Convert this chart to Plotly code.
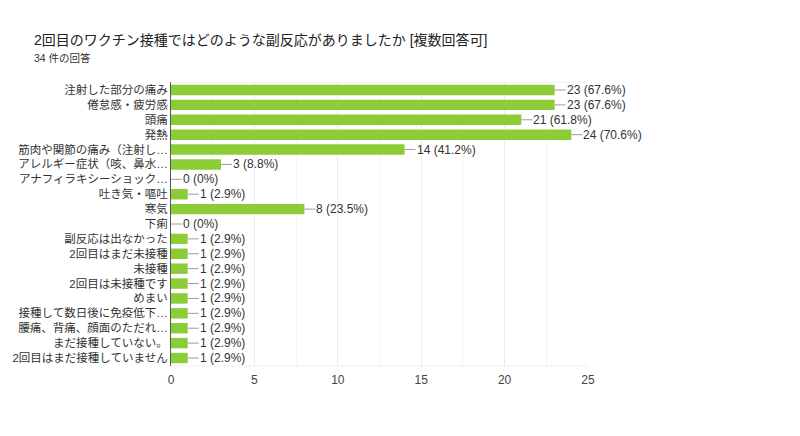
import plotly.graph_objects as go

categories = [
    "注射した部分の痛み", "倦怠感・疲労感", "頭痛", "発熱",
    "筋肉や関節の痛み（注射し…", "アレルギー症状（咳、鼻水…",
    "アナフィラキシーショック…", "吐き気・嘔吐", "寒気", "下痢",
    "副反応は出なかった", "2回目はまだ未接種", "未接種", "2回目は未接種です",
    "めまい", "接種して数日後に免疫低下…", "腰痛、背痛、顔面のただれ…",
    "まだ接種していない。", "2回目はまだ接種していません",
]
counts = [23, 23, 21, 24, 14, 3, 0, 1, 8, 0, 1, 1, 1, 1, 1, 1, 1, 1, 1]
percents = ["67.6%", "67.6%", "61.8%", "70.6%", "41.2%", "8.8%", "0%", "2.9%",
            "23.5%", "0%", "2.9%", "2.9%", "2.9%", "2.9%", "2.9%", "2.9%",
            "2.9%", "2.9%", "2.9%"]
x_ticks = [0, 5, 10, 15, 20, 25]

FONT = "'Liberation Sans', Arial, 'Noto Sans CJK JP', sans-serif"

fig = go.Figure(go.Bar(
    x=counts, y=categories, orientation="h",
    marker=dict(color="#8bcc37", line=dict(width=0)),
    hoverinfo="skip",
))

for c, v, p in zip(categories, counts, percents):
    fig.add_annotation(
        x=v, y=c, xref="x", yref="y",
        text=f"{v} ({p})", showarrow=True, arrowhead=0, arrowwidth=1,
        arrowcolor="#9e9e9e", ax=11, ay=0, xanchor="left", yanchor="middle",
        standoff=0, borderpad=0, font=dict(size=12, color="#333333", family=FONT),
    )

# page body has an 8px margin; compensate
OFF = 8
L, T = 171 - OFF, 82 - OFF
PW, PH = 417, 284
R, B = 800 - L - PW, 436 - T - PH

fig.update_layout(
    width=800, height=436,
    margin=dict(l=L, r=R, t=T, b=B, autoexpand=False),
    paper_bgcolor="white", plot_bgcolor="white",
    bargap=0.3, showlegend=False,
    font=dict(family=FONT, size=11, color="#333333"),
    xaxis=dict(range=[0, 25], tickvals=x_ticks, showgrid=True, gridcolor="#ebebeb",
               minor=dict(dtick=2.5, showgrid=True, gridcolor="#f4f4f4"),
               zeroline=False, showline=False, ticks="", automargin=False,
               ticklabelstandoff=5,
               tickfont=dict(size=12, color="#444444")),
    yaxis=dict(autorange="reversed", showline=True, linecolor="#555555", linewidth=1,
               ticks="", automargin=False, showgrid=False,
               tickfont=dict(size=11.5, color="#333333")),
)
fig.add_shape(type="line", xref="paper", yref="paper", x0=0, x1=1, y0=1, y1=1,
              line=dict(color="#f0f0f0", width=1), layer="below")
fig.add_shape(type="line", xref="paper", yref="paper", x0=0, x1=1, y0=0, y1=0,
              line=dict(color="#f0f0f0", width=1), layer="below")

TX = 32 - OFF
fig.add_annotation(
    xref="paper", yref="paper", x=(TX - L) / PW, y=1 + (82 - 40) / PH, xanchor="left",
    yanchor="middle", showarrow=False,
    text="2回目のワクチン接種ではどのような副反応がありましたか [複数回答可]",
    font=dict(size=14, color="#222222", family=FONT),
)
fig.add_annotation(
    xref="paper", yref="paper", x=(TX - L) / PW, y=1 + (82 - 58) / PH, xanchor="left",
    yanchor="middle", showarrow=False, text="34 件の回答",
    font=dict(size=10.5, color="#333333", family=FONT),
)

fig.write_html("out.html")
